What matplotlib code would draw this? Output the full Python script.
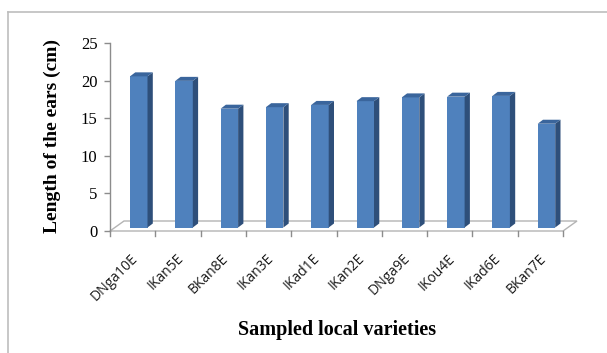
import matplotlib
matplotlib.use("Agg")
import matplotlib.pyplot as plt
from matplotlib.patches import Polygon
from matplotlib.lines import Line2D

# Ear length by local variety (cm)
varieties = ["DNga10E", "IKan5E", "BKan8E", "IKan3E", "IKad1E",
             "IKan2E", "DNga9E", "IKou4E", "IKad6E", "BKan7E"]
ear_length = [20.1, 19.5, 15.8, 16.0, 16.3, 16.8, 17.3, 17.4, 17.5, 13.8]
y_ticks = [0, 5, 10, 15, 20, 25]

W, H = 607, 353
fig = plt.figure(figsize=(W / 100, H / 100), dpi=100)
fig.patch.set_facecolor("white")

# plot area in pixels
left, right, bottom, top = 110, 563, 231, 43
ax = fig.add_axes([left / W, 1 - bottom / H, (right - left) / W, (bottom - top) / H])
n = len(varieties)
ax.set_xlim(0, n)
ax.set_ylim(0, 25)
ax.patch.set_alpha(0)

pxx = (right - left) / n      # pixels per category
pxy = (bottom - top) / 25.0   # pixels per unit

def dx(p):
    return p / pxx

def dy(p):
    return p / pxy

for s in ["top", "right", "bottom"]:
    ax.spines[s].set_visible(False)
ax.spines["left"].set_color("#8C8C8C")
ax.spines["left"].set_linewidth(1.0)

# floor of the 3-D plot
fdx, fdy = dx(14), dy(10)
floor = Polygon([(0, 0), (n, 0), (n + fdx, fdy), (fdx, fdy)], closed=True,
                facecolor="white", edgecolor="#B4B4B4", lw=1.0, clip_on=False, zorder=1)
ax.add_patch(floor)

# category boundary ticks below the floor
for k in range(n + 1):
    ax.add_line(Line2D([k, k], [0, -dy(5)], color="#8C8C8C", lw=1.0, clip_on=False, zorder=2))

# 3-D bars
front_c = "#4F81BD"
side_c = "#2E4F7A"
top_c = "#3A659C"
off_x, base = dx(20), dy(3.5)
bw = dx(17.5)
sdx, sdy = dx(5.3), dy(4)
for i, v in enumerate(ear_length):
    x0 = i + off_x
    ax.bar(x0, v, width=bw, bottom=base, align="edge", color=front_c,
           edgecolor="none", zorder=3, clip_on=False)
    t = base + v
    side = Polygon([(x0 + bw, base), (x0 + bw + sdx, base + sdy),
                    (x0 + bw + sdx, t + sdy), (x0 + bw, t)], closed=True,
                   facecolor=side_c, edgecolor="none", zorder=3, clip_on=False)
    topf = Polygon([(x0, t), (x0 + bw, t), (x0 + bw + sdx, t + sdy), (x0 + sdx, t + sdy)],
                   closed=True, facecolor=top_c, edgecolor="none", zorder=3, clip_on=False)
    ax.add_patch(side)
    ax.add_patch(topf)

# y axis
ax.set_yticks(y_ticks)
ax.set_yticklabels([str(t) for t in y_ticks], fontfamily="Liberation Serif", fontsize=12)
ax.tick_params(axis="y", direction="out", length=4, width=1, color="#8C8C8C", pad=5)
ax.set_xticks([])

# rotated category labels
for i, name in enumerate(varieties):
    ax.text(i + 0.5 - dx(2), -dy(20), name, rotation=45, ha="right", va="top",
            rotation_mode="anchor", fontsize=10, fontfamily="Open Sans",
            color="#1A1A1A", clip_on=False)

fig.text(52 / W, 1 - 136 / H, "Length of the ears (cm)", rotation=90, ha="center",
         va="center", fontsize=14, fontweight="bold", fontfamily="Liberation Serif")
fig.text(337 / W, 1 - 330 / H, "Sampled local varieties", ha="center", va="center",
         fontsize=14.5, fontweight="bold", fontfamily="Liberation Serif")

# chart area border
fig.add_artist(Line2D([8 / W, 8 / W], [0, 1 - 12 / H], color="#BDBDBD", lw=1.2,
                      transform=fig.transFigure))
fig.add_artist(Line2D([8 / W, 1], [1 - 12 / H, 1 - 12 / H], color="#BDBDBD", lw=1.2,
                      transform=fig.transFigure))

fig.savefig("out.png", dpi=100)
